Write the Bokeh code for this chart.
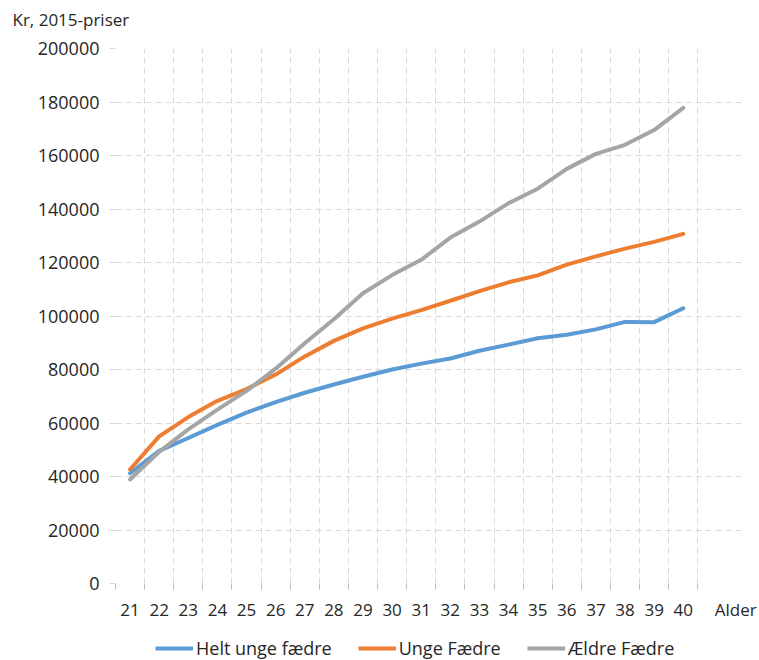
from bokeh.plotting import figure
from bokeh.layouts import column
from bokeh.models import (Range1d, FixedTicker, BasicTickFormatter, Legend,
                          LegendItem, ColumnDataSource, Grid, Label)
from bokeh.embed import file_html
from bokeh.resources import INLINE

ages = list(range(21, 41))
age_labels = [str(a) for a in ages]
x_title = "Alder"
y_title = "Kr, 2015-priser"
helt_unge = [41200, 49600, 54400, 59300, 63900, 67800, 71300, 74400, 77300, 80000,
             82200, 84100, 87000, 89300, 91700, 93000, 95000, 97800, 97700, 102900]
unge = [42600, 55000, 62200, 68300, 72700, 78100, 84900, 90700, 95400, 99000,
        102200, 105700, 109300, 112600, 115200, 119200, 122300, 125200, 127700, 130700]
aeldre = [38900, 49200, 57600, 65000, 72000, 80300, 89800, 98800, 108500, 115300,
          121000, 129300, 135300, 142200, 147600, 155000, 160600, 164000, 169500, 177800]
series_names = ["Helt unge fædre", "Unge Fædre", "Ældre Fædre"]
series_colors = ["#5b9bd5", "#ed7d31", "#a5a5a5"]
y_ticks = list(range(0, 200001, 20000))

FONT = "Open Sans"
TXT = "#262626"
GRID = "#d9d9d9"
AXIS = "#bfbfbf"
W = 759


def bare_fig(h):
    f = figure(width=W, height=h, output_backend="svg", toolbar_location=None,
               x_range=Range1d(0, 1), y_range=Range1d(0, 1),
               x_axis_type=None, y_axis_type=None, title=None,
               min_border_left=0, min_border_right=0, min_border_top=0,
               min_border_bottom=0, frame_align=False)
    f.grid.visible = False
    f.outline_line_color = None
    return f


src = ColumnDataSource(dict(x=ages, a=helt_unge, b=unge, c=aeldre))

# ---- title strip ----
top = bare_fig(32)
top.add_layout(Label(x=12, y=13, x_units="screen", y_units="screen",
                     text=y_title, text_font=FONT, text_font_size="17px",
                     text_color=TXT, text_baseline="middle", text_align="left"))

# ---- main chart ----
x0, x1 = ages[0] - 0.5, ages[-1] + 0.5
alder_pos = x1 + 1.3

p = figure(width=W, height=600, output_backend="svg", toolbar_location=None,
           title=None, frame_align=False,
           x_range=Range1d(x0, x1 + 1.5),
           y_range=Range1d(0, 200000),
           min_border_left=115, min_border_right=18, min_border_top=16,
           min_border_bottom=49)
p.outline_line_color = None

for col, color in zip(["a", "b", "c"], series_colors):
    p.line("x", col, source=src, line_color=color, line_width=4,
           line_join="round", line_cap="round")

bounds = [a - 0.5 for a in ages] + [x1]

xa = p.xaxis[0]
xa.ticker = FixedTicker(ticks=ages + [alder_pos], minor_ticks=bounds)
overrides = {a: s for a, s in zip(ages, age_labels)}
overrides[alder_pos] = x_title
xa.major_label_overrides = overrides
xa.axis_line_color = None
xa.major_tick_out = 0
xa.major_tick_in = 0
xa.minor_tick_out = 6
xa.minor_tick_in = 0
xa.minor_tick_line_color = AXIS
xa.major_label_standoff = 8
xa.major_label_text_font = FONT
xa.major_label_text_font_size = "17px"
xa.major_label_text_color = TXT

ya = p.yaxis[0]
ya.ticker = FixedTicker(ticks=y_ticks)
ya.formatter = BasicTickFormatter(use_scientific=False)
ya.axis_line_color = None
ya.major_tick_out = 6
ya.major_tick_in = 0
ya.major_tick_line_color = GRID
ya.minor_tick_line_color = None
ya.major_label_standoff = 10
ya.major_label_text_font = FONT
ya.major_label_text_font_size = "18px"
ya.major_label_text_color = TXT

p.xgrid.ticker = FixedTicker(ticks=bounds)
p.xgrid.grid_line_color = GRID
p.xgrid.grid_line_dash = "6 4"
p.ygrid.ticker = FixedTicker(ticks=y_ticks[1:])
p.ygrid.grid_line_color = GRID
p.ygrid.grid_line_dash = "6 4"
p.ygrid.bounds = (x0, x1)
p.add_layout(Grid(dimension=1, ticker=FixedTicker(ticks=[0]), bounds=(x0, x1),
                  grid_line_color=AXIS, grid_line_width=1))

# ---- legend strip (its lines use the same data, lying outside this strip's view) ----
bot = bare_fig(28)
leg_items = []
for name, col, color in zip(series_names, ["a", "b", "c"], series_colors):
    r = bot.line("x", col, source=src, line_color=color, line_width=4)
    leg_items.append(LegendItem(label=name, renderers=[r]))
legend = Legend(items=leg_items, orientation="horizontal", location=(155, 0),
                glyph_width=38, glyph_height=20, label_height=20, label_standoff=3,
                spacing=26, padding=0, margin=0,
                border_line_color=None, background_fill_alpha=0,
                label_text_font=FONT, label_text_font_size="18px", label_text_color=TXT)
bot.add_layout(legend, "center")

layout = column(top, p, bot, spacing=0)
open("out.html", "w").write(file_html(layout, INLINE))
